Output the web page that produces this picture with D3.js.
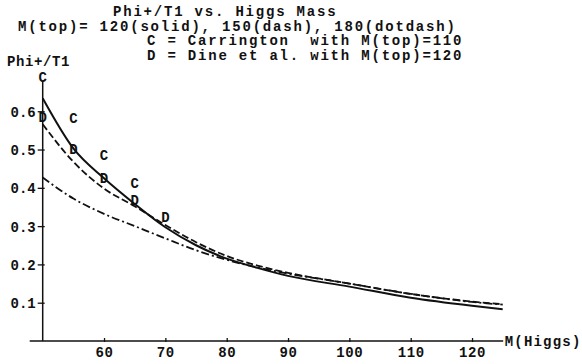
<!DOCTYPE html>
<html>
<head>
<meta charset="utf-8">
<script src="https://cdn.jsdelivr.net/npm/d3@7"></script>
<style>
  body { margin: 0; background: #fff; }
  svg text { font-family: 'Courier New', 'Liberation Mono', monospace; font-weight: bold; fill: #111; }
</style>
</head>
<body>
<svg id="chart" width="582" height="364"></svg>
<script>
const mHiggs = [50, 55, 60, 65, 70, 75, 80, 85, 90, 100, 110, 120, 125]
// Phi+/T1 for M(top) = 120 (solid), 150 (dash), 180 (dotdash)
const top120 = [0.634, 0.503, 0.425, 0.358, 0.297, 0.250, 0.215, 0.191, 0.170, 0.142, 0.113, 0.092, 0.083]
const top150 = [0.566, 0.468, 0.398, 0.352, 0.303, 0.258, 0.222, 0.197, 0.178, 0.150, 0.123, 0.103, 0.096]
const top180 = [0.427, 0.372, 0.332, 0.300, 0.268, 0.237, 0.212, 0.192, 0.176, 0.150, 0.123, 0.102, 0.095]

// Carrington (C) and Dine et al. (D) points
const cMass = [50, 55, 60, 65]
const cVal = [0.690, 0.582, 0.486, 0.412]
const dMass = [50, 55, 60, 65, 70]
const dVal = [0.584, 0.501, 0.427, 0.368, 0.325]

const xTicks = [60, 70, 80, 90, 100, 110, 120]
const yTicks = [0.1, 0.2, 0.3, 0.4, 0.5, 0.6]

const titleLines = [
  'Phi+/T1 vs. Higgs Mass',
  'M(top)= 120(solid), 150(dash), 180(dotdash)',
  'C = Carrington  with M(top)=110',
  'D = Dine et al. with M(top)=120'
]

const x = d3.scaleLinear().domain([50, 125]).range([42.7, 502.7])
const y = d3.scaleLinear().domain([0, 0.68]).range([341, 80.6])

const svg = d3.select('#chart')

// title block (monospace, 10.2px per character like the original)
const titleX = [113, 18, 147, 147]
const titleY = [16, 30.5, 45, 59.5]
svg.append('g')
  .selectAll('text')
  .data(titleLines)
  .join('text')
  .attr('x', (d, i) => titleX[i])
  .attr('y', (d, i) => titleY[i])
  .attr('font-size', 14)
  .attr('letter-spacing', 1.8)
  .attr('xml:space', 'preserve')
  .style('white-space', 'pre')
  .text(d => d)

// axes
const xAxis = svg.append('g')
  .attr('transform', `translate(0,${y(0)})`)
  .call(d3.axisBottom(x).tickValues(xTicks).tickSize(0).tickPadding(6))
xAxis.select('.domain').remove()
xAxis.selectAll('text').attr('font-size', 14).attr('letter-spacing', 0.6).attr('font-family', null)
xAxis.selectAll('.tick')
  .append('line')
  .attr('y1', -3).attr('y2', 1)
  .attr('stroke', '#111').attr('stroke-width', 1.3)
svg.append('line')
  .attr('x1', x(50) - 13).attr('x2', x(125) + 0.5)
  .attr('y1', y(0)).attr('y2', y(0))
  .attr('stroke', '#111').attr('stroke-width', 1.5)

const yAxis = svg.append('g')
  .attr('transform', `translate(${x(50)},0)`)
  .call(d3.axisLeft(y).tickValues(yTicks).tickSize(0).tickPadding(7).tickFormat(d3.format('.1f')))
yAxis.select('.domain').remove()
yAxis.selectAll('text').attr('font-size', 14).attr('font-family', null).attr('dy', '0.36em')
yAxis.selectAll('.tick')
  .append('line')
  .attr('x1', -5).attr('x2', 2)
  .attr('stroke', '#111').attr('stroke-width', 1.3)
svg.append('line')
  .attr('x1', x(50)).attr('x2', x(50))
  .attr('y1', y(0)).attr('y2', y(0.68))
  .attr('stroke', '#111').attr('stroke-width', 1.5)

svg.append('text')
  .attr('x', 7).attr('y', 66)
  .attr('font-size', 14)
  .attr('letter-spacing', 0.6)
  .text('Phi+/T1')

svg.append('text')
  .attr('x', x(125) + 2).attr('y', y(0) + 5)
  .attr('font-size', 14)
  .attr('letter-spacing', 1.2)
  .text('M(Higgs)')

// curves
const line = d3.line()
  .x(d => x(d[0]))
  .y(d => y(d[1]))
  .curve(d3.curveMonotoneX)

const series = [
  { vals: top120, dash: null, w: 2 },
  { vals: top150, dash: '7,3', w: 1.8 },
  { vals: top180, dash: '8,3,2,3', w: 1.8 }
]
svg.append('g')
  .selectAll('path')
  .data(series)
  .join('path')
  .attr('d', s => line(mHiggs.map((m, i) => [m, s.vals[i]])))
  .attr('fill', 'none')
  .attr('stroke', '#111')
  .attr('stroke-width', s => s.w)
  .attr('stroke-dasharray', s => s.dash)

// C and D markers
const markers = cMass.map((m, i) => ({ m, v: cVal[i], t: 'C' }))
  .concat(dMass.map((m, i) => ({ m, v: dVal[i], t: 'D' })))
svg.append('g')
  .selectAll('text')
  .data(markers)
  .join('text')
  .attr('x', d => x(d.m))
  .attr('y', d => y(d.v))
  .attr('dy', '0.36em')
  .attr('text-anchor', 'middle')
  .attr('font-size', 14)
  .text(d => d.t)
</script>
</body>
</html>
